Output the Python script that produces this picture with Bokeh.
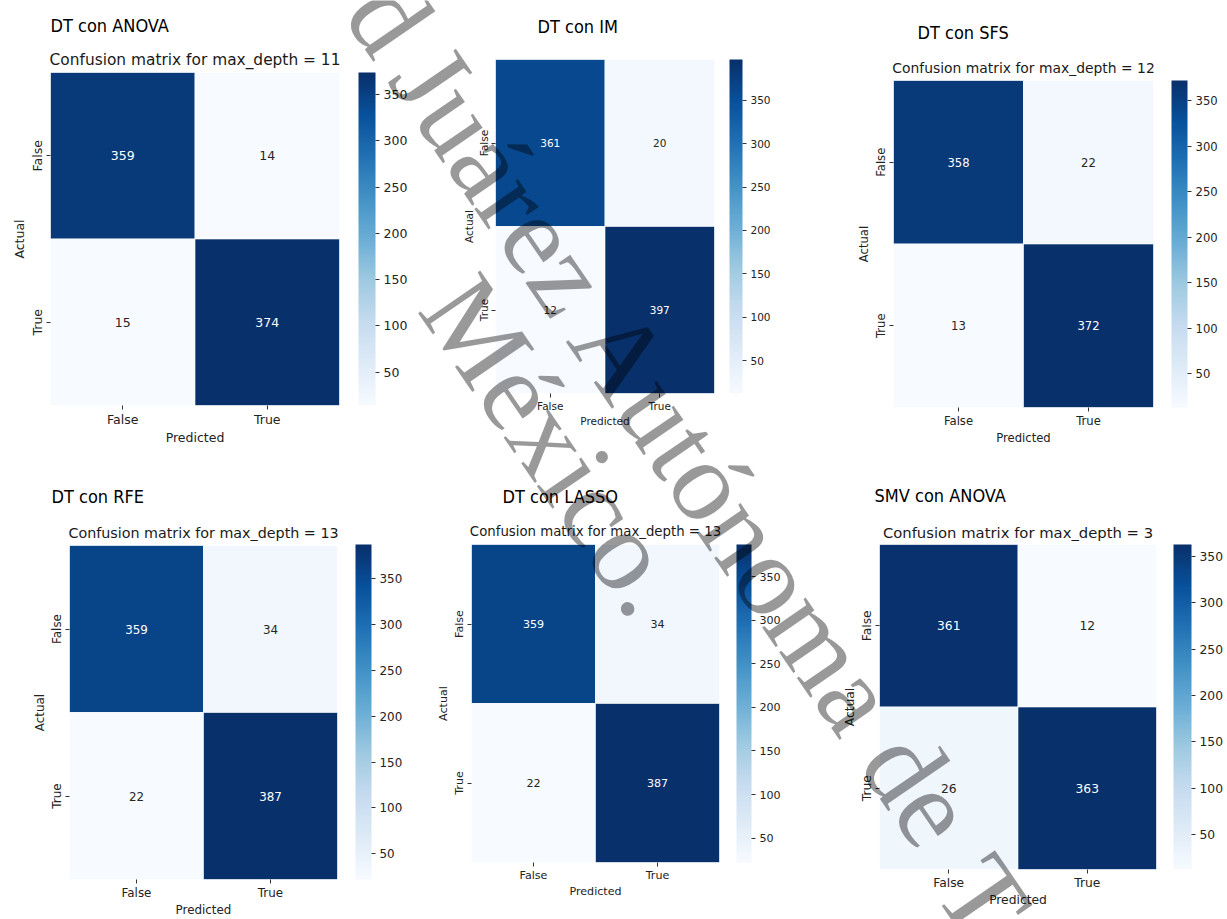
from bokeh.plotting import figure
from bokeh.models import (FactorRange, ColumnDataSource, LinearColorMapper, ColorBar,
                          FixedTicker, Label, Range1d)
from bokeh.transform import transform
from bokeh.palettes import Blues256
from bokeh.embed import file_html
from bokeh.resources import INLINE
from bokeh.core.properties import value

# ---------------- data ----------------
predicted_labels = ["False", "True"]
actual_labels = ["False", "True"]
headings = ["DT con ANOVA", "DT con IM", "DT con SFS",
            "DT con RFE", "DT con LASSO", "SMV con ANOVA"]
subtitles = ["Confusion matrix for max_depth = 11", "",
             "Confusion matrix for max_depth = 12",
             "Confusion matrix for max_depth = 13",
             "Confusion matrix for max_depth = 13",
             "Confusion matrix for max_depth = 3"]
# rows = actual (False, True); columns = predicted (False, True)
cm_dt_anova = [[359, 14], [15, 374]]
cm_dt_im = [[361, 20], [12, 397]]
cm_dt_sfs = [[358, 22], [13, 372]]
cm_dt_rfe = [[359, 34], [22, 387]]
cm_dt_lasso = [[359, 34], [22, 387]]
cm_smv_anova = [[361, 12], [26, 363]]
colorbar_ticks = [50, 100, 150, 200, 250, 300, 350]
x_axis_label = "Predicted"
y_axis_label = "Actual"
watermark_texts = ["d", "Juárez Autónoma de", "T", "México."]

matrices = [cm_dt_anova, cm_dt_im, cm_dt_sfs, cm_dt_rfe, cm_dt_lasso, cm_smv_anova]

# ---------------- layout / style (page pixel coordinates) ----------------
W, H = 1227, 919
FRAMES = [(50, 72, 289, 333), (495, 59, 219, 334), (893, 80, 260, 327),
          (69, 545, 268, 335), (471, 544, 248, 318), (879, 544, 277, 325)]
CBAR = [(19, 17), (15, 13), (18, 16), (18, 16), (17, 15), (17, 18)]
FS = [12.5, 10.5, 11.6, 11.9, 11.1, 12.3]
HEAD_FONT = "'Noto Sans Condensed', 'DejaVu Sans Condensed', 'Roboto Condensed', Roboto"
HEAD_FS = "18px"
HEAD_POS = [(50, 25), (537, 26), (917, 32), (51, 496), (502, 496), (874, 495)]
SUB_POS = [(194.5, 59), None, (1023, 67), (203, 532), (595, 531), (1017.5, 532)]
SUB_FS = [15.4, 0, 13.9, 14.3, 13.3, 14.8]
WM_ANGLE = -55.5
WM_SIZE = "115px"
WM_POS = [((405.3, 40.6), "right"), ((417.5, 58.3), "left"),
          ((963.0, 869.0), "left"), ((447.4, 288.2), "left")]

PALETTE = list(reversed(Blues256))

figs = []
for i, cm in enumerate(matrices):
    fl, ft, fw, fh = FRAMES[i]
    fs = FS[i]
    ml, mt = 52, 5
    mr = min(75, W - (fl + fw))
    mb = min(50, H - (ft + fh))
    p = figure(width=ml + fw + mr, height=mt + fh + mb,
               x_range=FactorRange(factors=predicted_labels),
               y_range=FactorRange(factors=list(reversed(actual_labels))),
               output_backend="svg", toolbar_location=None,
               min_border_left=ml, min_border_top=mt,
               min_border_right=mr, min_border_bottom=mb,
               styles={"position": "absolute", "left": f"{fl - ml}px",
                       "top": f"{ft - mt}px"})
    p.outline_line_color = None
    p.grid.grid_line_color = None
    p.background_fill_color = "white"
    p.border_fill_alpha = 0

    vals = [v for r in cm for v in r]
    lo, hi = min(vals), max(vals)
    mapper = LinearColorMapper(palette=PALETTE, low=lo, high=hi)
    xs, ys, labs, tcol = [], [], [], []
    for ri, a in enumerate(actual_labels):
        for ci, pr in enumerate(predicted_labels):
            v = cm[ri][ci]
            xs.append(pr)
            ys.append(a)
            labs.append(str(v))
            tcol.append("white" if (v - lo) / (hi - lo) > 0.5 else "#262626")
    src = ColumnDataSource(dict(pred=xs, act=ys, v=vals, label=labs, tcolor=tcol))
    p.rect(x="pred", y="act", width=1, height=1, source=src,
           fill_color=transform("v", mapper), line_color="white",
           line_width=1, line_alpha=0.6)
    p.text(x="pred", y="act", text="label", text_color="tcolor", source=src,
           text_align="center", text_baseline="middle",
           text_font=value("DejaVu Sans"), text_font_size=value(f"{fs}px"))

    for ax in (p.xaxis[0], p.yaxis[0]):
        ax.axis_line_color = None
        ax.major_tick_in = 0
        ax.major_tick_out = 4
        ax.major_tick_line_color = "#333333"
        ax.major_label_standoff = 2
        ax.major_label_text_font = "DejaVu Sans"
        ax.major_label_text_font_size = f"{fs}px"
        ax.major_label_text_color = "#222222"
        ax.axis_label_text_font = "DejaVu Sans"
        ax.axis_label_text_font_size = f"{fs}px"
        ax.axis_label_text_font_style = "normal"
        ax.axis_label_text_color = "#222222"
        ax.axis_label_standoff = 0
    p.xaxis.axis_label = x_axis_label
    p.yaxis.axis_label = y_axis_label
    p.yaxis.major_label_orientation = "vertical"

    gap, bw = CBAR[i]
    cb = ColorBar(color_mapper=mapper, location=(fw + gap, 0), width=bw, height=fh,
                  padding=0, margin=0, ticker=FixedTicker(ticks=colorbar_ticks),
                  major_tick_in=0, major_tick_out=4, major_tick_line_color="#333333",
                  bar_line_color=None, border_line_color=None,
                  background_fill_alpha=0, label_standoff=4,
                  major_label_text_font="DejaVu Sans",
                  major_label_text_font_size=f"{fs}px",
                  major_label_text_color="#222222")
    p.add_layout(cb)
    figs.append(p)

# transparent overlay for headings, subtitles and the watermark
ov = figure(width=W, height=H, x_range=Range1d(0, W), y_range=Range1d(H, 0),
            x_axis_location=None, y_axis_location=None, toolbar_location=None,
            output_backend="svg", min_border=0,
            styles={"position": "absolute", "left": "0px", "top": "0px"})
ov.outline_line_color = None
ov.background_fill_alpha = 0
ov.border_fill_alpha = 0
ov.grid.visible = False

for i in range(len(matrices)):
    hx, hy = HEAD_POS[i]
    ov.add_layout(Label(x=hx, y=hy, text=headings[i],
                        text_font=HEAD_FONT, text_font_size=HEAD_FS,
                        text_color="black", text_baseline="alphabetic",
                        text_align="left"))
    if SUB_POS[i] is not None and subtitles[i]:
        sx, sy = SUB_POS[i]
        ov.add_layout(Label(x=sx, y=sy, text=subtitles[i],
                            text_font="DejaVu Sans", text_font_size=f"{SUB_FS[i]}px",
                            text_color="#1a1a1a", text_baseline="alphabetic",
                            text_align="center"))

for txt, ((X, Y), al) in zip(watermark_texts, WM_POS):
    ov.add_layout(Label(x=X, y=Y, text=txt, angle=WM_ANGLE, angle_units="deg",
                        text_font="Liberation Serif", text_font_size=WM_SIZE,
                        text_color="black", text_alpha=0.4,
                        text_align=al, text_baseline="alphabetic"))

open("out.html", "w").write(file_html(figs + [ov], INLINE))
